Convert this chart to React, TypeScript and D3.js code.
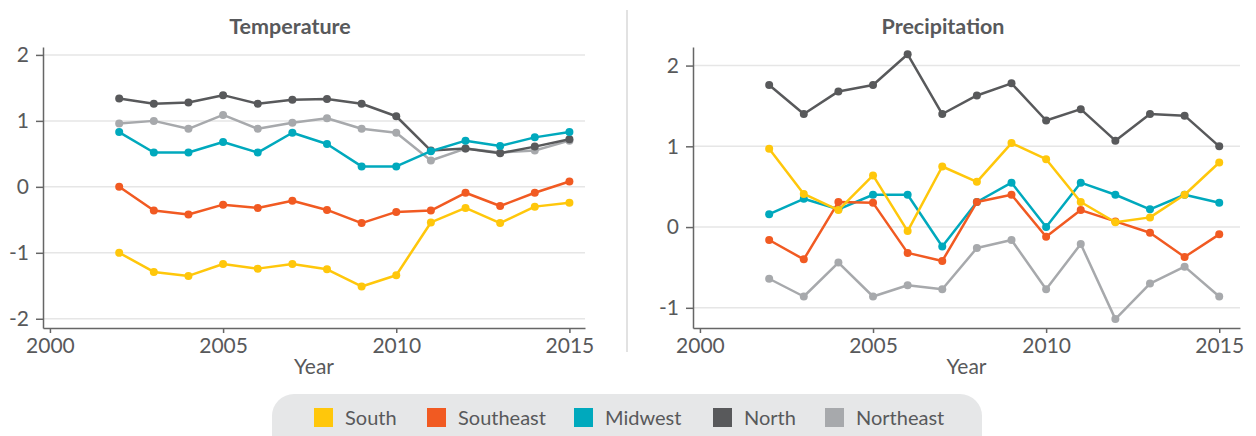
import { useEffect, useRef } from 'react';
import * as d3 from 'd3';

const years = [2002, 2003, 2004, 2005, 2006, 2007, 2008, 2009, 2010, 2011, 2012, 2013, 2014, 2015];
const regions = ['South', 'Southeast', 'Midwest', 'North', 'Northeast'];
const colors = ['#ffc70b', '#f15a22', '#00a9bd', '#58595b', '#a7a9ac'];

const tempSouth = [-1.0, -1.29, -1.35, -1.17, -1.24, -1.17, -1.25, -1.51, -1.34, -0.54, -0.32, -0.55, -0.3, -0.24];
const tempSoutheast = [0.0, -0.36, -0.42, -0.27, -0.32, -0.21, -0.35, -0.55, -0.38, -0.36, -0.09, -0.29, -0.09, 0.08];
const tempMidwest = [0.83, 0.52, 0.52, 0.68, 0.52, 0.82, 0.65, 0.31, 0.31, 0.54, 0.7, 0.62, 0.75, 0.83];
const tempNorth = [1.34, 1.26, 1.28, 1.39, 1.26, 1.32, 1.33, 1.26, 1.07, 0.55, 0.58, 0.51, 0.61, 0.72];
const tempNortheast = [0.96, 1.0, 0.88, 1.09, 0.88, 0.97, 1.04, 0.88, 0.82, 0.4, 0.58, 0.52, 0.55, 0.7];

const precSouth = [0.97, 0.41, 0.21, 0.64, -0.05, 0.75, 0.56, 1.04, 0.84, 0.31, 0.06, 0.12, 0.4, 0.8];
const precSoutheast = [-0.16, -0.4, 0.31, 0.3, -0.32, -0.42, 0.31, 0.4, -0.12, 0.21, 0.07, -0.07, -0.37, -0.09];
const precMidwest = [0.16, 0.35, 0.22, 0.4, 0.4, -0.24, 0.31, 0.55, 0.0, 0.55, 0.4, 0.22, 0.4, 0.3];
const precNorth = [1.76, 1.4, 1.68, 1.76, 2.14, 1.4, 1.63, 1.78, 1.32, 1.46, 1.07, 1.4, 1.38, 1.0];
const precNortheast = [-0.64, -0.86, -0.44, -0.86, -0.72, -0.77, -0.26, -0.16, -0.77, -0.21, -1.14, -0.7, -0.49, -0.86];

const xTicks = [2000, 2005, 2010, 2015];
const tempTicks = [-2, -1, 0, 1, 2];
const precTicks = [-1, 0, 1, 2];

const FONT = 'Lato, "Open Sans", sans-serif';
const TEXT = '#58595b';

export default function App() {
  const svgRef = useRef<SVGSVGElement | null>(null);

  useEffect(() => {
    const svg = d3.select(svgRef.current);
    svg.selectAll('*').remove();

    const panels = [
      {
        title: 'Temperature', titleX: 290, series: [tempSouth, tempSoutheast, tempMidwest, tempNorth, tempNortheast],
        xDomain: [1999.8, 2015.45], xRange: [43, 585], yDomain: [-2.14, 2.12], ticks: tempTicks
      },
      {
        title: 'Precipitation', titleX: 943, series: [precSouth, precSoutheast, precMidwest, precNorth, precNortheast],
        xDomain: [1999.8, 2015.6], xRange: [693, 1240], yDomain: [-1.25, 2.23], ticks: precTicks
      }
    ];

    panels.forEach((p) => {
      const x = d3.scaleLinear().domain(p.xDomain).range(p.xRange);
      const y = d3.scaleLinear().domain(p.yDomain).range([328, 47]);
      const g = svg.append('g');

      g.append('text').attr('x', p.titleX).attr('y', 34).attr('text-anchor', 'middle')
        .attr('font-family', FONT).attr('font-weight', 700).attr('font-size', 21.5).attr('fill', TEXT).text(p.title);

      g.selectAll('.grid').data(p.ticks).join('line')
        .attr('x1', p.xRange[0]).attr('x2', p.xRange[1])
        .attr('y1', (d) => y(d)).attr('y2', (d) => y(d))
        .attr('stroke', '#e6e6e6').attr('stroke-width', 1.5);

      const yAxis = g.append('g').attr('transform', `translate(${p.xRange[0]},0)`)
        .call(d3.axisLeft(y).tickValues(p.ticks).tickFormat((d) => String(d)).tickSize(7).tickPadding(7).tickSizeOuter(0));
      const xAxis = g.append('g').attr('transform', 'translate(0,328)')
        .call(d3.axisBottom(x).tickValues(xTicks).tickFormat((d) => String(d)).tickSize(5).tickPadding(5).tickSizeOuter(0));
      [yAxis, xAxis].forEach((a) => {
        a.select('.domain').attr('stroke', '#666').attr('stroke-width', 1.5);
        a.selectAll('.tick line').attr('stroke', '#666').attr('stroke-width', 1.5);
        a.selectAll('.tick text').attr('font-family', FONT).attr('font-size', 21).attr('fill', TEXT);
      });

      g.append('text').attr('x', (p.xRange[0] + p.xRange[1]) / 2).attr('y', 374).attr('text-anchor', 'middle')
        .attr('font-family', FONT).attr('font-size', 21).attr('fill', TEXT).text('Year');

      const line = d3.line<number>().x((_, i) => x(years[i])).y((d) => y(d));
      for (let s = p.series.length - 1; s >= 0; s--) {
        const vals = p.series[s];
        g.append('path').attr('d', line(vals)).attr('fill', 'none')
          .attr('stroke', colors[s]).attr('stroke-width', 2.5).attr('stroke-linejoin', 'round');
        g.selectAll(null).data(vals).join('circle')
          .attr('cx', (_, i) => x(years[i])).attr('cy', (d) => y(d)).attr('r', 4).attr('fill', colors[s]);
      }
    });

    svg.append('line').attr('x1', 627).attr('x2', 627).attr('y1', 10).attr('y2', 352)
      .attr('stroke', '#d9d9d9').attr('stroke-width', 1.5);

    const legend = svg.append('g');
    legend.append('rect').attr('x', 272).attr('y', 394).attr('width', 710).attr('height', 70).attr('rx', 22)
      .attr('fill', '#e6e7e8');
    const swatchX = [314, 427, 574, 713, 825];
    regions.forEach((r, i) => {
      legend.append('rect').attr('x', swatchX[i]).attr('y', 408).attr('width', 19).attr('height', 19).attr('fill', colors[i]);
      legend.append('text').attr('x', swatchX[i] + 31).attr('y', 425).attr('font-family', FONT).attr('font-size', 20)
        .attr('fill', TEXT).text(r);
    });
  }, []);

  return (
    <div style={{ position: 'absolute', left: 0, top: 0 }}>
      <svg ref={svgRef} width={1256} height={436} style={{ display: 'block' }} />
    </div>
  );
}
